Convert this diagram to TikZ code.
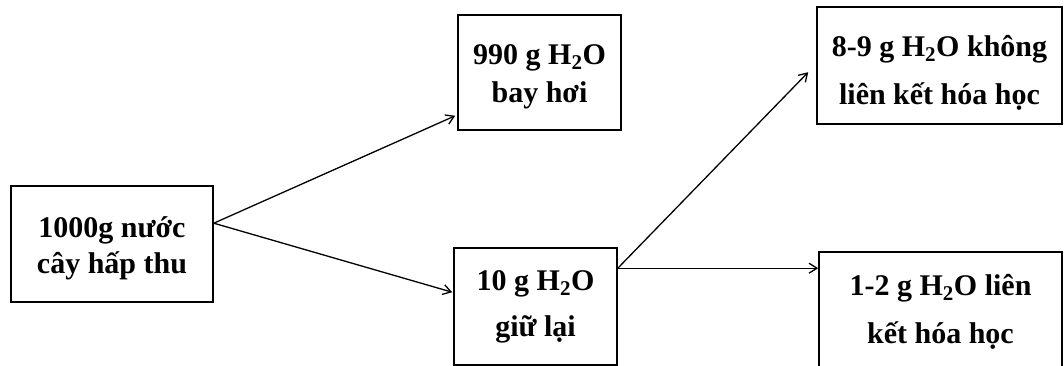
\documentclass[tikz,border=0pt]{standalone}
\usepackage{fontspec}
\setmainfont{Liberation Serif}
\usetikzlibrary{arrows.meta}
\begin{document}
\begin{tikzpicture}[x=1pt,y=-1pt,
  box/.style={draw, line width=1.6pt, rectangle, inner sep=0pt},
  lbl/.style={align=center, inner sep=0pt, font=\fontsize{30}{#1}\selectfont\bfseries},
  arr/.style={line width=1.3pt, -{Straight Barb[length=8pt,width=10pt]}}]
\useasboundingbox (0,0) rectangle (1064,366);
\node[box, minimum width=202pt, minimum height=116pt,
  label={[lbl=36, yshift=-4pt]center:{1000g nước\\cây hấp thu}}] (n1000) at (112,244) {};
\node[box, minimum width=163pt, minimum height=115pt,
  label={[lbl=38, yshift=-4pt]center:{990 g H\textsubscript{2}O\\bay hơi}}] (n990) at (539.5,72.5) {};
\node[box, minimum width=163pt, minimum height=117pt,
  label={[lbl=46, yshift=0pt]center:{10 g H\textsubscript{2}O\\giữ lại}}] (n10) at (535.5,306.5) {};
\node[box, minimum width=245pt, minimum height=117pt,
  label={[lbl=48, yshift=-7pt]center:{8-9 g H\textsubscript{2}O không\\liên kết hóa học}}] (n89) at (939.5,65.5) {};
\node[box, minimum width=243pt, minimum height=120pt,
  label={[lbl=48, yshift=0pt]center:{1-2 g H\textsubscript{2}O liên\\kết hóa học}}] (n12) at (940.5,312) {};
\draw[arr] ([yshift=-38pt]n1000.north east) -- ([xshift=-2pt,yshift=15pt]n990.south west);
\draw[arr] ([yshift=-38pt]n1000.north east) -- ([xshift=-1pt,yshift=-45pt]n10.north west);
\draw[arr] ([yshift=-21pt]n10.north east) -- ([xshift=-8pt,yshift=-66pt]n89.north west);
\draw[arr] ([yshift=-21pt]n10.north east) -- ([yshift=-17pt]n12.north west);
\end{tikzpicture}
\end{document}
